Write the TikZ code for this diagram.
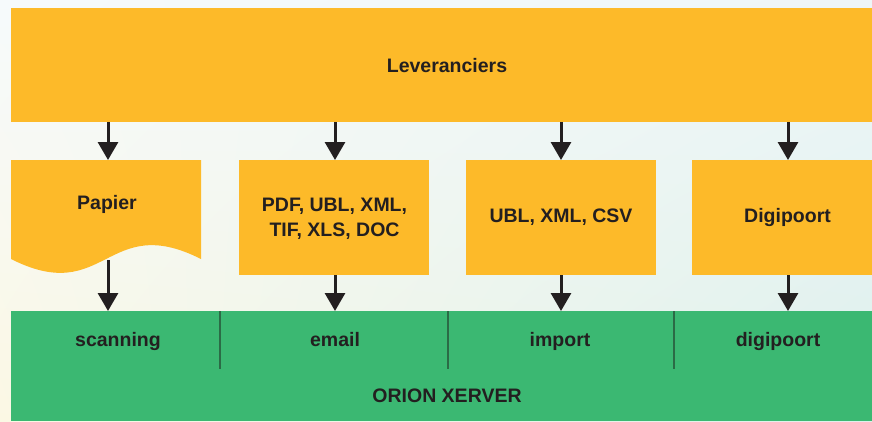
\documentclass[tikz,border=0pt]{standalone}
\usepackage{fontspec}
\setmainfont{Liberation Sans}
\usetikzlibrary{arrows.meta,shadings}
\definecolor{orng}{HTML}{FDBA29}
\definecolor{grn}{HTML}{3BB872}
\definecolor{ink}{HTML}{231F20}
\definecolor{divl}{HTML}{2B6B46}
\definecolor{bgtl}{HTML}{F6FAFC}
\definecolor{bgtr}{HTML}{EEF6F8}
\definecolor{bgbl}{HTML}{FBF8E4}
\definecolor{bgbr}{HTML}{DDF0EC}
\tikzset{
  box/.style={fill=orng, draw=none, minimum width=190pt, minimum height=115pt, inner sep=0pt, anchor=north west},
  lbl/.style={font=\bfseries\fontsize{19.5}{25}\selectfont, text=ink, align=center, inner sep=0pt},
  blbl/.style={lbl, anchor=base},
  flow/.style={draw=ink, line width=3pt, -{Triangle[width=20pt,length=18pt]}},
  divider/.style={draw=divl, line width=1.3pt}
}
\begin{document}
\begin{tikzpicture}[x=1pt,y=-1pt]
\useasboundingbox (0,0) rectangle (872,421);
\shade[upper left=bgtl, upper right=bgtr, lower left=bgbl, lower right=bgbr] (0,0) rectangle (872,421);
% top bar
\node[fill=orng, minimum width=861pt, minimum height=114pt, inner sep=0pt, anchor=north west] (lev) at (11,8) {};
\node[blbl] (levlbl) at (447,72) {Leveranciers};
% green bar
\node[fill=grn, minimum width=861pt, minimum height=110pt, inner sep=0pt, anchor=north west] (orion) at (11,311) {};
\node[blbl] (orionlbl) at (447,402) {ORION XERVER};
% paper shape
\fill[orng] (11,160) -- (201,160) -- (201,259) .. controls (106,211) and (106,307) .. (11,259) -- cycle;
\node[blbl] (papier) at (107,209) {Papier};
\coordinate (papierbot) at (108,260);
\coordinate (papiertop) at (108,160);
% boxes
\node[box] (b2) at (239,160) {};
\node[box] (b3) at (466,160) {};
\node[box, minimum width=180pt] (b4) at (692,160) {};
\node[lbl] (t2) at (334.5,218.5) {PDF, UBL, XML,\\TIF, XLS, DOC};
\node[blbl] (t3) at (561,222) {UBL, XML, CSV};
\node[blbl] (t4) at (787.5,222) {Digipoort};
% channel labels
\node[blbl] (s1) at (118,346) {scanning};
\node[blbl] (s2) at (335,346) {email};
\node[blbl] (s3) at (560,346) {import};
\node[blbl] (s4) at (778,346) {digipoort};
% dividers
\coordinate (d1t) at (220,311); \coordinate (d1b) at (220,369);
\coordinate (d2t) at (448,311); \coordinate (d2b) at (448,369);
\coordinate (d3t) at (674,311); \coordinate (d3b) at (674,369);
\draw[divider] (d1t) -- (d1b);
\draw[divider] (d2t) -- (d2b);
\draw[divider] (d3t) -- (d3b);
% column x positions
\coordinate (x2) at (335,0);
\coordinate (x3) at (561,0);
\coordinate (x4) at (788,0);
% arrows top
\draw[flow] (lev.south -| papiertop) -- (papiertop);
\draw[flow] (lev.south -| x2) -- (b2.north -| x2);
\draw[flow] (lev.south -| x3) -- (b3.north -| x3);
\draw[flow] (lev.south -| x4) -- (b4.north -| x4);
% arrows bottom
\draw[flow] (papierbot) -- (orion.north -| papierbot);
\draw[flow] (b2.south -| x2) -- (orion.north -| x2);
\draw[flow] (b3.south -| x3) -- (orion.north -| x3);
\draw[flow] (b4.south -| x4) -- (orion.north -| x4);
\end{tikzpicture}
\end{document}
